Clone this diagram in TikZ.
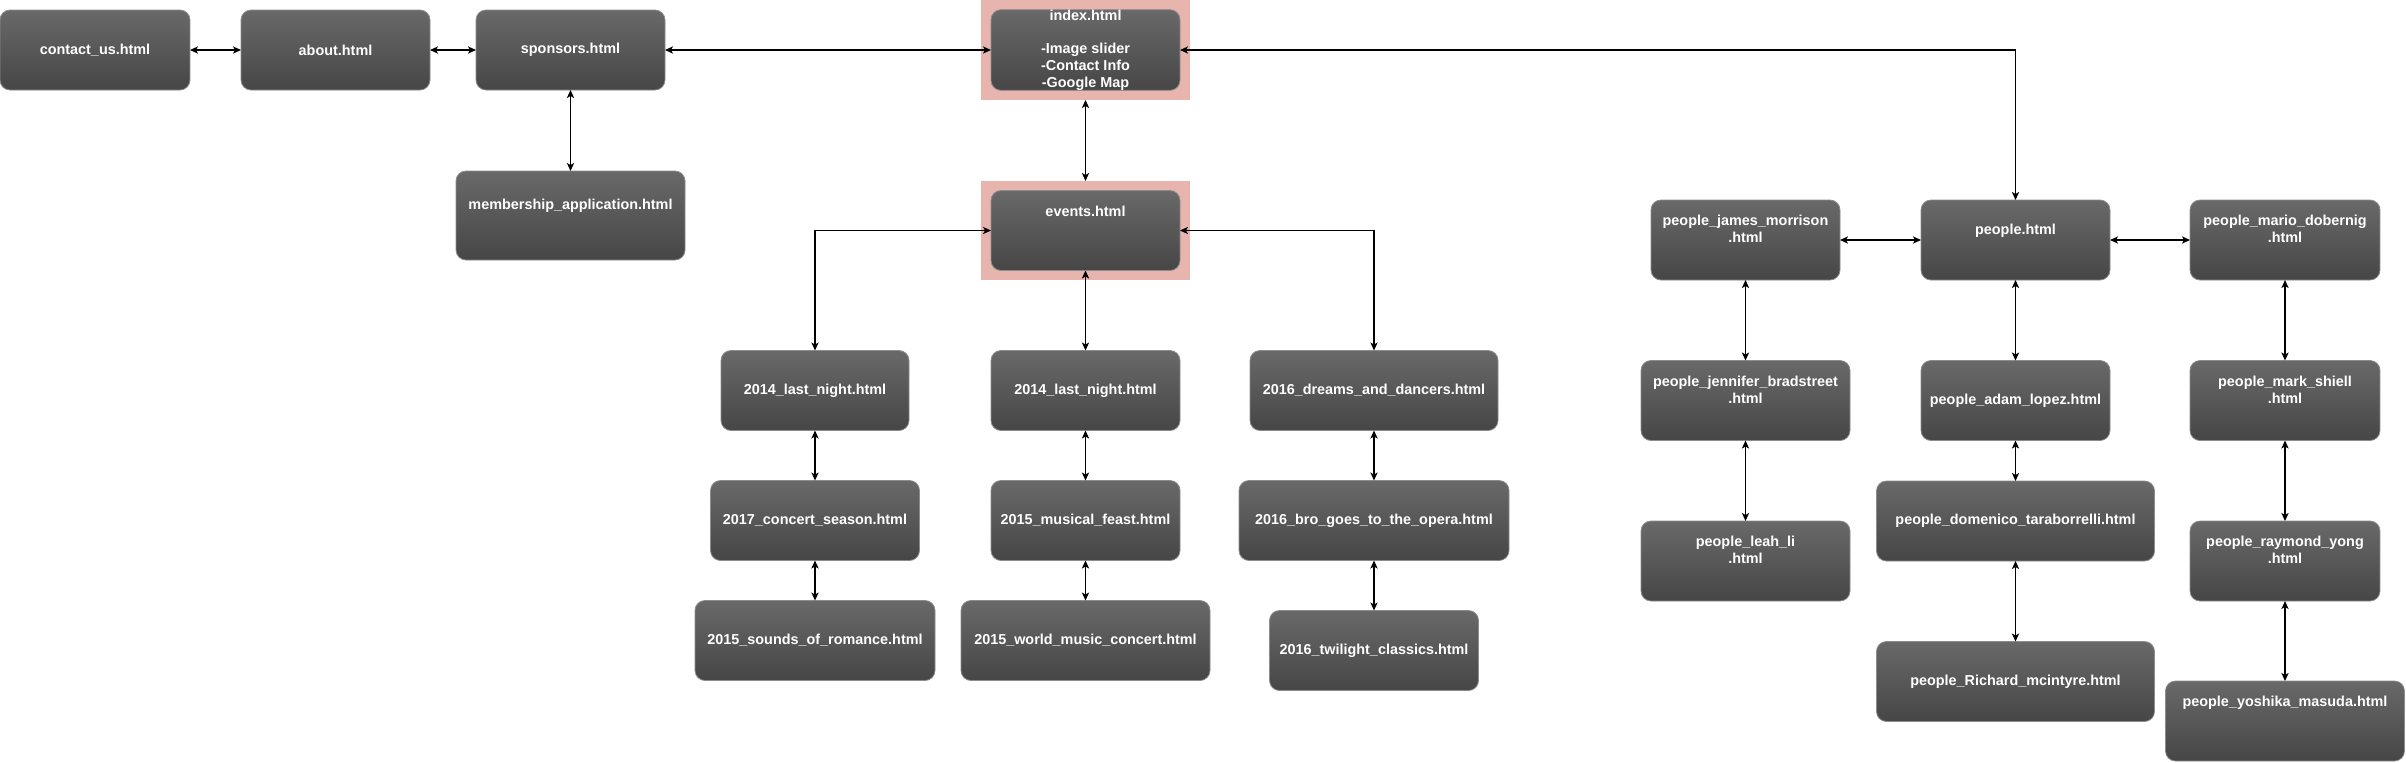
\documentclass[tikz,border=0pt]{standalone}
\usepackage{fontspec}
\setmainfont{Liberation Sans}
\usetikzlibrary{arrows.meta,positioning}
\definecolor{boxtop}{HTML}{696969}
\definecolor{boxbot}{HTML}{464646}
\definecolor{boxedge}{HTML}{8C8C8C}
\definecolor{mark}{HTML}{E8B5AE}

\begin{document}
\begin{tikzpicture}[x=0.5pt, y=-0.5pt,
    page/.style={rectangle, rounded corners=5pt, top color=boxtop, bottom color=boxbot,
      draw=boxedge, line width=0.4pt, inner sep=0pt, outer sep=0pt, minimum height=40pt,
      text=white, align=center, font=\fontsize{7.2}{8.4}\selectfont\bfseries},
    hilite/.style={rectangle, fill=mark, inner sep=0pt, outer sep=0pt},
    link/.style={{Stealth[length=4pt,width=3.6pt,inset=1pt]}-{Stealth[length=4pt,width=3.6pt,inset=1pt]}, line width=0.6pt}]
    \useasboundingbox (0,0) rectangle (2406,762);
    % highlighted pages
    \node[hilite, minimum width=104.5pt, minimum height=50pt] (indexbg) at (1085.5,50) {};
    \node[hilite, minimum width=104.5pt, minimum height=49.5pt] (eventsbg) at (1085.5,230.5) {};
    \foreach \n/\x/\y/\w/\h/\t in {
      contact/95/50/190/80/{contact\_us.html},
      about/335.5/50/189/80/{about.html},
      sponsors/570.5/50/189/80/{sponsors.html},
      member/570.5/215.5/229/89/{membership\_application.html\\\strut},
      index/1085.5/50/189/80/{index.html\\\strut\\-Image slider\\-Contact Info\\-Google Map},
      events/1085.5/230.5/189/80/{events.html\\\strut\\\strut},
      lastA/815/390.5/188/80/{2014\_last\_night.html},
      concert/815/520.5/209/80/{2017\_concert\_season.html},
      romance/815/640.5/240/80/{2015\_sounds\_of\_romance.html},
      lastB/1085.5/390.5/189/80/{2014\_last\_night.html},
      feast/1085.5/520.5/189/80/{2015\_musical\_feast.html},
      world/1085.5/640.5/249/80/{2015\_world\_music\_concert.html},
      dreams/1374/390.5/248/80/{2016\_dreams\_and\_dancers.html},
      opera/1374/520.5/270/80/{2016\_bro\_goes\_to\_the\_opera.html},
      twilight/1374/650.5/209/80/{2016\_twilight\_classics.html},
      james/1745.5/240/189/80/{people\_james\_morrison\\.html\\\strut},
      jennifer/1745.5/400.5/209/80/{people\_jennifer\_bradstreet\\.html\\\strut},
      leah/1745.5/561/209/80/{people\_leah\_li\\.html\\\strut},
      people/2015.5/240/189/80/{people.html\\\strut},
      adam/2015.5/400.5/189/80/{people\_adam\_lopez.html},
      domenico/2015.5/521/278/80/{people\_domenico\_taraborrelli.html},
      richard/2015.5/681.5/278/80/{people\_Richard\_mcintyre.html},
      mario/2285/240/190/80/{people\_mario\_dobernig\\.html\\\strut},
      shiell/2285/400.5/190/80/{people\_mark\_shiell\\.html\\\strut},
      raymond/2285/561/190/80/{people\_raymond\_yong\\.html\\\strut},
      yoshika/2285/721/239/80/{people\_yoshika\_masuda.html\\\strut\\\strut}}{
      \node[page, minimum width=\w*0.5pt, minimum height=\h*0.5pt] (\n) at (\x,\y) {\t};
    }
    % links
    \foreach \a/\b in {contact/about, about/sponsors, sponsors/index, sponsors/member,
      indexbg/eventsbg, events/lastB, lastA/concert, concert/romance, lastB/feast, feast/world,
      dreams/opera, opera/twilight, james/people, people/mario, james/jennifer, jennifer/leah,
      people/adam, adam/domenico, domenico/richard, mario/shiell, shiell/raymond, raymond/yoshika}{
      \draw[link] (\a) -- (\b);
    }
    \draw[link] (events.west) -| (lastA.north);
    \draw[link] (events.east) -| (dreams.north);
    \draw[link] (index.east) -| (people.north);
  \end{tikzpicture}
\end{document}
